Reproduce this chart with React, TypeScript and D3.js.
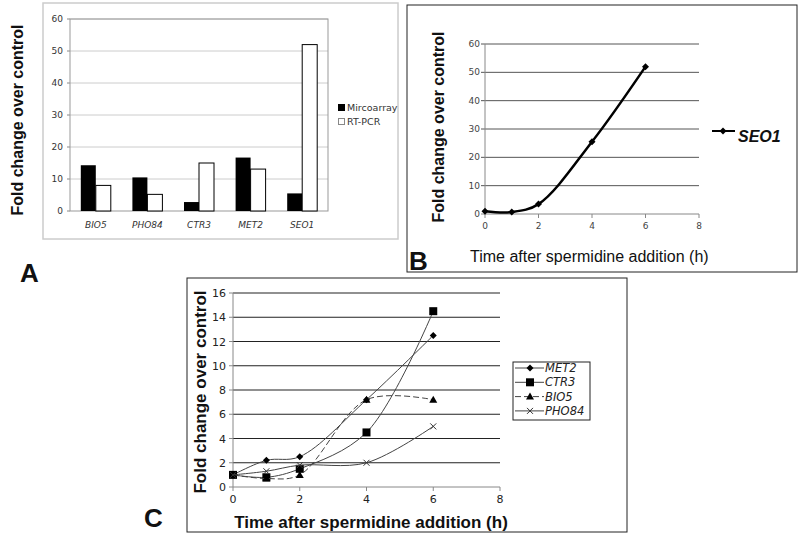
import React from "react";
import * as d3 from "d3";

const genes = ["BIO5", "PHO84", "CTR3", "MET2", "SEO1"];
const microarray = [14.3, 10.5, 2.8, 16.7, 5.5];
const rtpcr = [8.0, 5.2, 15.0, 13.1, 52.0];
const barTicks = [0, 10, 20, 30, 40, 50, 60];

const timesB = [0, 1, 2, 4, 6];
const seo1 = [1.0, 0.7, 3.5, 25.5, 52.0];
const bTicksY = [0, 10, 20, 30, 40, 50, 60];
const xTicks = [0, 2, 4, 6, 8];

const timesC = [0, 1, 2, 4, 6];
const met2 = [1.0, 2.2, 2.5, 7.2, 12.5];
const ctr3 = [1.0, 0.8, 1.5, 4.5, 14.5];
const bio5 = [1.0, 0.7, 1.0, 7.2, 7.2];
const pho84 = [1.0, 1.3, 1.8, 2.0, 5.0];
const cTicksY = [0, 2, 4, 6, 8, 10, 12, 14, 16];

const FONT_V = "DejaVu Sans, Verdana, sans-serif";
const FONT_A = "Liberation Sans, Arial, sans-serif";

function Marker({ kind, x, y }: { kind: string; x: number; y: number }) {
  if (kind === "diamond") {
    const s = 3.5;
    return <path d={`M${x},${y - s}L${x + s},${y}L${x},${y + s}L${x - s},${y}Z`} fill="#000" />;
  }
  if (kind === "square") {
    return <rect x={x - 4} y={y - 4} width={8} height={8} fill="#000" />;
  }
  if (kind === "triangle") {
    return <path d={`M${x},${y - 4}L${x + 4},${y + 3}L${x - 4},${y + 3}Z`} fill="#000" />;
  }
  return (
    <path d={`M${x - 3},${y - 3}L${x + 3},${y + 3}M${x - 3},${y + 3}L${x + 3},${y - 3}`} stroke="#333" strokeWidth={1} />
  );
}

function PanelA() {
  const x = d3.scaleBand<string>().domain(genes).range([70, 328]);
  const y = d3.scaleLinear().domain([0, 60]).range([211, 19]);
  const bw = 15;
  return (
    <g>
      <rect x={43} y={3} width={355} height={236} fill="#fff" stroke="#ccc" strokeWidth={1.5} />
      {barTicks.map((t) => (
        <g key={t}>
          {t > 0 && <line x1={70} x2={328} y1={y(t)} y2={y(t)} stroke="#ccc" />}
          <line x1={67} x2={70} y1={y(t)} y2={y(t)} stroke="#888" />
          <text x={63} y={y(t) + 3} textAnchor="end" fontSize={9} fontFamily={FONT_V} fill="#333">
            {t}
          </text>
        </g>
      ))}
      <rect x={70} y={19} width={258} height={192} fill="none" stroke="#999" />
      {genes.map((g, i) => {
        const c = (x(g) as number) + x.bandwidth() / 2;
        return (
          <g key={g}>
            <rect x={c - bw} y={y(microarray[i])} width={bw} height={y(0) - y(microarray[i])} fill="#000" />
            <rect x={c} y={y(rtpcr[i])} width={bw} height={y(0) - y(rtpcr[i])} fill="#fff" stroke="#000" />
            <text x={c} y={228} textAnchor="middle" fontSize={9} fontStyle="italic" fontFamily={FONT_V} fill="#333">
              {g}
            </text>
          </g>
        );
      })}
      <rect x={338} y={104} width={7} height={7} fill="#000" />
      <text x={347} y={111} fontSize={9.5} fontFamily={FONT_V} fill="#333">Mircoarray</text>
      <rect x={338.5} y={118.5} width={6} height={6} fill="#fff" stroke="#888" />
      <text x={347} y={125} fontSize={9.5} fontFamily={FONT_V} fill="#333">RT-PCR</text>
      <text
        transform="translate(23,120) rotate(-90)"
        textAnchor="middle"
        fontSize={16}
        fontWeight="bold"
        fontFamily={FONT_A}
        fill="#111"
      >
        Fold change over control
      </text>
      <text x={20} y={282} fontSize={26} fontWeight="bold" fontFamily={FONT_A} fill="#111">A</text>
    </g>
  );
}

function PanelB() {
  const x = d3.scaleLinear().domain([0, 8]).range([485, 699]);
  const y = d3.scaleLinear().domain([0, 60]).range([214, 44]);
  const line = d3
    .line<number>()
    .x((_, i) => x(timesB[i]))
    .y((d) => y(d))
    .curve(d3.curveCatmullRom.alpha(0.5));
  return (
    <g>
      <rect x={407} y={5} width={390} height={267} fill="#fff" stroke="#222" strokeWidth={1} />
      {bTicksY.map((t) => (
        <g key={t}>
          <line x1={481} x2={699} y1={y(t)} y2={y(t)} stroke={t === 0 ? "#888" : "#555"} />
          <text x={480} y={y(t) + 3} textAnchor="end" fontSize={9} fontFamily={FONT_V} fill="#444">
            {t}
          </text>
        </g>
      ))}
      <line x1={485} x2={485} y1={44} y2={214} stroke="#888" />
      {xTicks.map((t) => (
        <g key={t}>
          <line x1={x(t)} x2={x(t)} y1={214} y2={218} stroke="#888" />
          <text x={x(t)} y={229} textAnchor="middle" fontSize={9} fontFamily={FONT_V} fill="#444">
            {t}
          </text>
        </g>
      ))}
      <path d={line(seo1) as string} fill="none" stroke="#000" strokeWidth={2.5} />
      {seo1.map((v, i) => (
        <Marker key={i} kind="diamond" x={x(timesB[i])} y={y(v)} />
      ))}
      <line x1={712} x2={735} y1={131} y2={131} stroke="#000" strokeWidth={2} />
      <Marker kind="diamond" x={723} y={131} />
      <text x={738} y={142} fontSize={16} fontWeight="bold" fontStyle="italic" fontFamily={FONT_A} fill="#111">
        SEO1
      </text>
      <text x={470} y={262} fontSize={16} fontFamily={FONT_A} fill="#111">Time after spermidine addition (h)</text>
      <text
        transform="translate(444,127) rotate(-90)"
        textAnchor="middle"
        fontSize={16}
        fontWeight="bold"
        fontFamily={FONT_A}
        fill="#111"
      >
        Fold change over control
      </text>
      <text x={409} y={270} fontSize={26} fontWeight="bold" fontFamily={FONT_A} fill="#111">B</text>
    </g>
  );
}

function PanelC() {
  const x = d3.scaleLinear().domain([0, 8]).range([233, 500]);
  const y = d3.scaleLinear().domain([0, 16]).range([487, 293]);
  const mk = (vals: number[]) =>
    d3
      .line<number>()
      .x((_, i) => x(timesC[i]))
      .y((d) => y(d))
      .curve(d3.curveCatmullRom.alpha(0.5))(vals) as string;
  const series = [
    { name: "MET2", vals: met2, kind: "diamond", dash: "" },
    { name: "CTR3", vals: ctr3, kind: "square", dash: "" },
    { name: "BIO5", vals: bio5, kind: "triangle", dash: "6,3" },
    { name: "PHO84", vals: pho84, kind: "x", dash: "" },
  ];
  return (
    <g>
      <rect x={187} y={278} width={440} height={254} fill="#fff" stroke="#222" strokeWidth={1} />
      {cTicksY.map((t) => (
        <g key={t}>
          {t > 0 && <line x1={233} x2={500} y1={y(t)} y2={y(t)} stroke="#222" strokeWidth={1.2} />}
          <line x1={229} x2={233} y1={y(t)} y2={y(t)} stroke="#888" />
          <text x={226} y={y(t) + 4} textAnchor="end" fontSize={11} fontFamily={FONT_V} fill="#222">
            {t}
          </text>
        </g>
      ))}
      <line x1={233} x2={233} y1={293} y2={487} stroke="#888" />
      <line x1={233} x2={500} y1={487} y2={487} stroke="#888" />
      {xTicks.map((t) => (
        <g key={t}>
          <line x1={x(t)} x2={x(t)} y1={487} y2={491} stroke="#888" />
          <text x={x(t)} y={503} textAnchor="middle" fontSize={11} fontFamily={FONT_V} fill="#222">
            {t}
          </text>
        </g>
      ))}
      {series.map((s) => (
        <g key={s.name}>
          <path d={mk(s.vals)} fill="none" stroke="#444" strokeWidth={1} strokeDasharray={s.dash} />
          {s.vals.map((v, i) => (
            <Marker key={i} kind={s.kind} x={x(timesC[i])} y={y(v)} />
          ))}
        </g>
      ))}
      <rect x={513} y={362} width={77} height={58} fill="#fff" stroke="#222" />
      {series.map((s, i) => {
        const ly = 368 + i * 14.3;
        return (
          <g key={s.name}>
            <line x1={515} x2={544} y1={ly} y2={ly} stroke="#444" strokeDasharray={s.dash} />
            <Marker kind={s.kind} x={530} y={ly} />
            <text x={545} y={ly + 4} fontSize={11.5} fontStyle="italic" fontFamily={FONT_V} fill="#222">
              {s.name}
            </text>
          </g>
        );
      })}
      <text x={371} y={528} textAnchor="middle" fontSize={17} fontWeight="bold" fontFamily={FONT_A} fill="#111">
        Time after spermidine addition (h)
      </text>
      <text
        transform="translate(206,392) rotate(-90)"
        textAnchor="middle"
        fontSize={17}
        fontWeight="bold"
        fontFamily={FONT_A}
        fill="#111"
      >
        Fold change over control
      </text>
      <text x={144} y={527} fontSize={26} fontWeight="bold" fontFamily={FONT_A} fill="#111">C</text>
    </g>
  );
}

export default function App() {
  return (
    <svg
      width={800}
      height={536}
      viewBox="0 0 800 536"
      style={{ position: "absolute", left: 0, top: 0, background: "#fff" }}
    >
      <rect width={800} height={536} fill="#fff" />
      <PanelA />
      <PanelB />
      <PanelC />
    </svg>
  );
}
